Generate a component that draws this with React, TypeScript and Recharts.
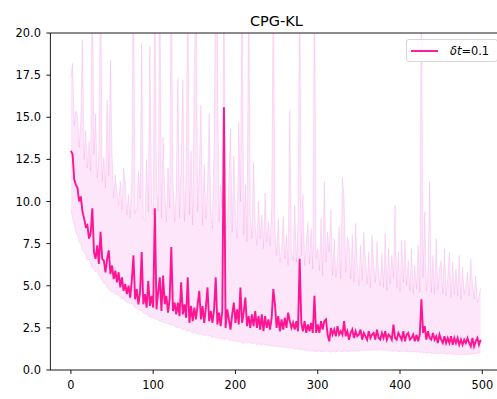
import React from 'react';
import { ComposedChart, Line, Area, XAxis, YAxis, ReferenceLine, Legend } from 'recharts';

const TITLE = 'CPG-KL';
const STEP = 2;
const xTicks = [0, 100, 200, 300, 400, 500];
const yTicks = [0, 2.5, 5, 7.5, 10, 12.5, 15, 17.5, 20];

const meanLoss = [
  13.0, 12.8, 11.3, 11.0, 10.8, 10.0, 10.3, 9.4, 9.0, 8.5,
  8.6, 7.8, 8.1, 9.6, 7.0, 6.6, 7.4, 6.3, 8.2, 6.6,
  6.5, 5.8, 6.6, 7.1, 5.7, 6.2, 5.4, 5.9, 5.2, 5.8,
  4.9, 5.5, 4.7, 5.1, 4.5, 5.0, 4.3, 5.3, 6.8, 4.2,
  4.8, 3.9, 4.6, 7.0, 3.9, 4.5, 3.7, 5.3, 3.8, 4.4,
  3.7, 9.6, 3.6, 4.6, 5.5, 3.5, 5.6, 3.9, 4.4, 3.4,
  4.2, 7.3, 3.5, 4.0, 3.3, 4.0, 3.2, 5.2, 3.3, 3.9,
  3.1, 5.5, 2.8, 3.8, 2.9, 3.7, 3.0, 3.9, 4.7, 3.0,
  3.8, 2.8, 3.7, 4.9, 2.9, 3.5, 2.8, 3.6, 5.5, 2.7,
  3.4, 2.6, 3.5, 15.6, 2.5, 3.6, 3.0, 2.4, 3.3, 4.0,
  2.8, 3.6, 2.7, 4.9, 2.8, 3.4, 4.3, 2.6, 3.2, 2.5,
  3.3, 2.6, 3.5, 2.5, 3.2, 2.4, 3.3, 2.3, 3.2, 2.5,
  3.0, 2.4, 3.1, 4.8, 3.9, 2.5, 3.2, 2.3, 3.0, 2.4,
  3.1, 2.5, 3.4, 2.9, 2.5, 2.8, 2.4, 2.9, 2.3, 6.6,
  2.8, 2.3, 2.9, 2.2, 2.7, 2.3, 2.8, 2.2, 4.4, 2.2,
  2.7, 2.2, 2.9, 2.4, 2.9, 3.0, 2.1, 1.7, 2.5, 2.1,
  2.4, 2.0, 2.6, 2.1, 2.3, 2.1, 2.9, 2.0, 2.3, 1.8,
  2.2, 2.4, 1.9, 2.3, 2.0, 2.1, 2.4, 1.8, 2.2, 2.0,
  1.8, 2.3, 1.9, 2.1, 2.2, 1.8, 2.4, 1.9, 1.8, 2.2,
  1.9, 2.3, 1.8, 2.1, 2.0, 1.8, 2.7, 1.9, 1.8, 2.2,
  2.0, 1.8, 2.3, 1.7, 2.1, 2.2, 1.8, 1.9, 2.1, 1.7,
  2.1, 1.7, 2.1, 4.2, 2.2, 2.6, 1.8, 2.3, 1.9, 1.8,
  2.2, 1.8, 2.0, 1.6, 2.1, 1.8, 1.6, 2.0, 1.6, 1.9,
  1.6, 2.0, 1.5, 1.9, 1.6, 1.9, 1.5, 1.8, 1.5, 1.8,
  1.6, 1.9, 1.6, 1.4, 1.9, 1.4, 1.7, 1.9, 1.5, 1.8,
];

const lowerBand = [
  9.5, 9.0, 8.6, 8.2, 8.0, 7.6, 7.5, 7.1, 7.0, 6.8,
  6.5, 6.6, 6.3, 6.1, 6.0, 5.8, 5.9, 5.6, 5.5, 5.3,
  5.1, 5.2, 4.9, 4.8, 4.7, 4.6, 4.7, 4.5, 4.5, 4.4,
  4.35, 4.2, 4.3, 4.1, 4.0, 4.0, 3.9, 3.95, 3.85, 3.7,
  3.7, 3.6, 3.55, 3.5, 3.4, 3.3, 3.35, 3.2, 3.15, 3.1,
  3.1, 3.0, 3.05, 2.95, 2.9, 2.9, 2.85, 2.8, 2.8, 2.75,
  2.7, 2.65, 2.7, 2.6, 2.55, 2.5, 2.55, 2.45, 2.4, 2.45,
  2.35, 2.3, 2.35, 2.25, 2.2, 2.25, 2.2, 2.15, 2.1, 2.15,
  2.1, 2.05, 2.1, 2.0, 2.05, 2.0, 1.95, 2.0, 1.9, 1.95,
  1.9, 1.85, 1.9, 1.8, 1.88, 1.85, 1.8, 1.75, 1.8, 1.72,
  1.75, 1.7, 1.65, 1.7, 1.62, 1.6, 1.65, 1.58, 1.68, 1.6,
  1.6, 1.55, 1.62, 1.5, 1.55, 1.52, 1.48, 1.55, 1.5, 1.45,
  1.5, 1.42, 1.46, 1.4, 1.44, 1.4, 1.38, 1.42, 1.35, 1.38,
  1.36, 1.3, 1.34, 1.28, 1.32, 1.3, 1.25, 1.28, 1.22, 1.25,
  1.2, 1.24, 1.18, 1.2, 1.15, 1.18, 1.12, 1.15, 1.1, 1.12,
  1.1, 1.14, 1.08, 1.12, 1.1, 1.15, 1.08, 1.12, 1.06, 1.1,
  1.12, 1.05, 1.1, 1.14, 1.08, 1.1, 1.15, 1.08, 1.12, 1.1,
  1.14, 1.1, 1.18, 1.12, 1.16, 1.12, 1.18, 1.14, 1.2, 1.15,
  1.18, 1.2, 1.15, 1.22, 1.18, 1.2, 1.16, 1.22, 1.18, 1.2,
  1.16, 1.2, 1.14, 1.18, 1.12, 1.15, 1.1, 1.16, 1.12, 1.08,
  1.12, 1.1, 1.15, 1.08, 1.12, 1.1, 1.06, 1.12, 1.08, 1.1,
  1.05, 1.1, 1.04, 1.08, 1.02, 1.06, 1.0, 1.04, 1.02, 0.98,
  1.02, 0.98, 1.0, 0.96, 1.0, 0.98, 1.02, 0.96, 1.0, 0.94,
  0.98, 0.92, 0.96, 0.9, 0.94, 0.9, 0.94, 0.88, 0.92, 0.9,
  0.94, 0.9, 0.96, 0.92, 0.98, 0.95, 1.0, 0.96, 1.02, 1.05,
];

const upperBand = [
  17.4, 18.2, 14.5, 15.4, 15.1, 13.2, 14.8, 19.6, 12.5, 14.2,
  12.0, 13.6, 11.8, 24.0, 12.8, 15.2, 11.4, 13.0, 24.0, 11.2,
  12.6, 10.8, 16.0, 11.5, 18.4, 12.7, 10.2, 11.6, 10.5, 9.8,
  11.2, 9.5, 12.0, 11.1, 9.2, 10.4, 9.0, 11.5, 24.0, 9.3,
  9.6, 11.8, 10.2, 19.4, 9.0, 8.9, 12.5, 9.4, 19.2, 10.0,
  9.2, 24.0, 11.0, 9.4, 24.0, 9.0, 13.8, 10.5, 8.8, 12.0,
  9.6, 24.0, 11.2, 8.8, 10.6, 17.3, 9.0, 12.4, 17.2, 8.8,
  11.5, 24.0, 9.2, 13.0, 8.6, 17.9, 24.0, 9.4, 11.8, 15.7,
  8.6, 12.2, 9.0, 10.8, 15.2, 9.4, 8.4, 13.4, 24.0, 19.8,
  8.8, 11.0, 9.6, 24.0, 8.4, 8.6, 11.4, 14.3, 8.2, 12.7,
  9.0, 7.8, 14.7, 10.0, 24.0, 8.0, 11.0, 7.6, 24.0, 9.2,
  7.8, 12.3, 8.6, 7.4, 10.0, 7.8, 9.2, 7.2, 10.5, 7.6,
  8.8, 7.4, 9.6, 24.0, 8.2, 6.8, 9.0, 6.4, 7.0, 9.1,
  6.6, 8.0, 6.2, 15.4, 7.0, 6.5, 9.8, 6.4, 8.6, 24.0,
  6.8, 10.4, 6.2, 7.5, 8.8, 6.3, 8.4, 6.0, 24.0, 6.6,
  7.2, 5.9, 9.0, 5.6, 11.2, 6.4, 8.2, 7.0, 9.5, 5.6,
  7.8, 5.5, 6.6, 8.5, 5.4, 11.4, 10.2, 5.8, 7.9, 7.5,
  5.4, 8.0, 5.2, 8.7, 6.2, 5.0, 7.4, 5.3, 8.2, 6.6,
  5.1, 7.0, 4.9, 8.0, 6.25, 5.2, 7.6, 5.7, 5.0, 6.9,
  4.9, 8.1, 4.7, 7.2, 5.1, 6.8, 5.5, 9.8, 4.9, 7.0,
  4.6, 7.7, 5.2, 7.7, 5.0, 6.5, 4.7, 7.2, 4.5, 6.2,
  4.8, 7.4, 4.6, 24.0, 5.5, 9.4, 4.7, 5.8, 11.2, 4.6,
  6.8, 4.5, 7.8, 4.8, 6.0, 6.5, 4.5, 7.2, 4.4, 5.4,
  7.0, 4.3, 6.4, 4.5, 6.0, 4.4, 6.8, 4.2, 6.1, 4.5,
  5.0, 5.8, 4.4, 6.6, 5.2, 4.2, 5.6, 4.0, 4.4, 4.9,
];

const SERIES_COLOR = '#ff1493';
const BAND_COLOR = '#f062d8';
const FONT = '"DejaVu Sans", sans-serif';

const data = meanLoss.map((m, i) => ({
  epoch: i * STEP,
  mean: m,
  band: [lowerBand[i], upperBand[i]],
}));

const LegendBox = () => (
  <div
    style={{
      boxSizing: 'border-box',
      width: 92,
      height: 23,
      border: '1px solid #d6d6d6',
      borderRadius: 3,
      background: 'rgba(255,255,255,0.8)',
      display: 'flex',
      alignItems: 'center',
      fontFamily: FONT,
      fontSize: 11.4,
      color: '#000',
      whiteSpace: 'nowrap',
    }}
  >
    <svg width={43} height={10} style={{ flex: 'none' }}>
      <line x1={4} y1={5} x2={31} y2={5} stroke={SERIES_COLOR} strokeWidth={1.9} />
    </svg>
    <span>
      <span style={{ fontStyle: 'italic' }}>δt</span>=0.1
    </span>
  </div>
);

export default function App() {
  return (
    <div
      style={{
        position: 'absolute',
        left: 0,
        top: 0,
        width: 497,
        height: 399,
        overflow: 'hidden',
        background: '#fff',
      }}
    >
      <ComposedChart
        width={510}
        height={399}
        data={data}
        margin={{ top: 33, right: 8, bottom: 0, left: 0.4 }}
      >
        <XAxis
          dataKey="epoch"
          type="number"
          domain={[-24.95, 523.95]}
          ticks={xTicks}
          allowDataOverflow
          height={29}
          tickSize={4}
          tickMargin={7}
          axisLine={{ stroke: '#000', strokeWidth: 0.9 }}
          tickLine={{ stroke: '#000', strokeWidth: 0.9 }}
          tick={{ fill: '#000', fontSize: 11.4, fontFamily: FONT }}
        />
        <YAxis
          type="number"
          domain={[0, 20]}
          ticks={yTicks}
          allowDataOverflow
          width={50}
          tickSize={4}
          tickMargin={5.5}
          tickFormatter={(v: number) => v.toFixed(1)}
          axisLine={{ stroke: '#000', strokeWidth: 0.9 }}
          tickLine={{ stroke: '#000', strokeWidth: 0.9 }}
          tick={{ fill: '#000', fontSize: 11.4, fontFamily: FONT }}
        />
        <Area
          dataKey="band"
          type="linear"
          fill={BAND_COLOR}
          fillOpacity={0.16}
          stroke={BAND_COLOR}
          strokeOpacity={0.18}
          strokeWidth={1}
          isAnimationActive={false}
          activeDot={false}
          dot={false}
          legendType="none"
        />
        <Line
          dataKey="mean"
          type="linear"
          stroke={SERIES_COLOR}
          strokeWidth={1.9}
          dot={false}
          activeDot={false}
          isAnimationActive={false}
        />
        <ReferenceLine y={20} stroke="#000" strokeWidth={0.9} ifOverflow="visible" />
        <Legend
          layout="vertical"
          verticalAlign="middle"
          align="center"
          content={() => <LegendBox />}
          wrapperStyle={{ position: 'absolute', left: 406, top: 39, width: 92, height: 23 }}
        />
      </ComposedChart>
      <svg
        width={497}
        height={30}
        style={{ position: 'absolute', left: 0, top: 0, pointerEvents: 'none' }}
      >
        <text x={276.4} y={26} textAnchor="middle" fontFamily={FONT} fontSize={14.5} fill="#000">
          {TITLE}
        </text>
      </svg>
    </div>
  );
}
